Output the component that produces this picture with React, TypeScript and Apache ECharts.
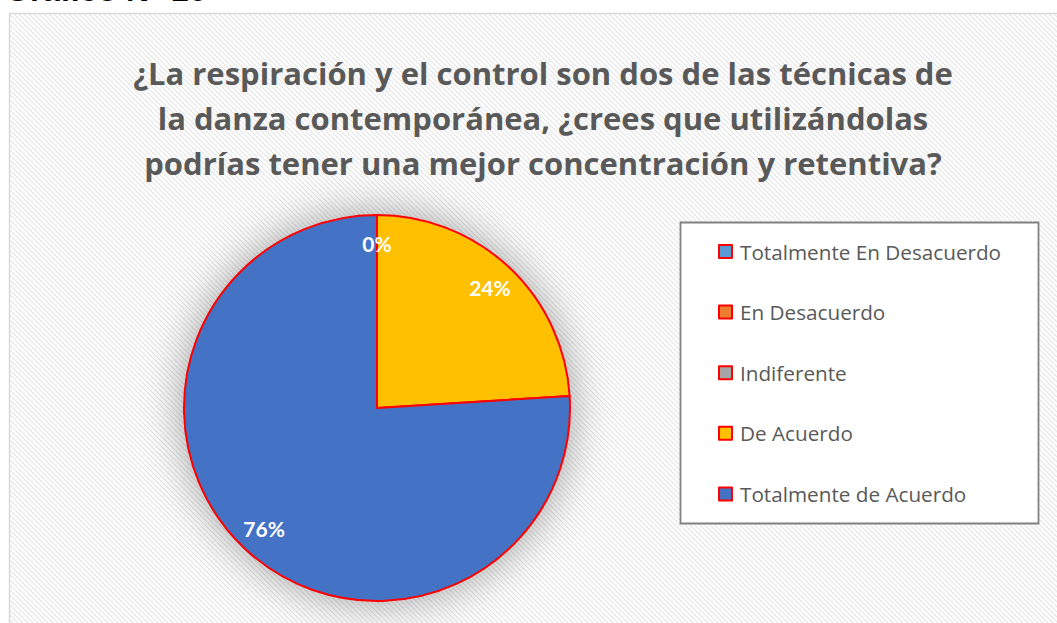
import React, { useEffect, useRef } from "react";
import * as echarts from "echarts";

const categories = [
  "Totalmente En Desacuerdo",
  "En Desacuerdo",
  "Indiferente",
  "De Acuerdo",
  "Totalmente de Acuerdo",
];
const values = [0, 0, 0, 24, 76];
const colors = ["#5b9bd5", "#ed7d31", "#a5a5a5", "#ffc000", "#4472c4"];
const titleText =
  "¿La respiración y el control son dos de las técnicas de\nla danza contemporánea, ¿crees que utilizándolas\npodrías tener una mejor concentración y retentiva?";
const headerText = "Gráfico N° 16";

const hatchSvg =
  "data:image/svg+xml;charset=utf-8," +
  encodeURIComponent(
    '<svg xmlns="http://www.w3.org/2000/svg" width="5" height="5"><rect width="5" height="5" fill="#ffffff"/><path d="M-1,-1 L6,6 M-1,4 L1,6 M4,-1 L6,1" stroke="#e4e4e4" stroke-width="1.1"/></svg>'
  );

export default function App() {
  const ref = useRef<HTMLDivElement>(null);
  useEffect(() => {
    if (!ref.current) return;
    const chart = echarts.init(ref.current, null, { renderer: "svg" });
    const data = categories.map((name, i) => ({
      name,
      value: values[i],
      itemStyle: { color: colors[i] },
    }));
    chart.setOption({
      animation: false,
      backgroundColor: "#ffffff",
      graphic: [
        {
          type: "rect",
          z: -10,
          shape: { x: 9.5, y: 13.5, width: 1060, height: 620 },
          style: {
            fill: { image: hatchSvg, repeat: "repeat", imageWidth: 5, imageHeight: 5 },
            stroke: "#d9d9d9",
            lineWidth: 1.5,
          },
        },
        {
          type: "text",
          x: 5,
          y: 6,
          style: {
            text: headerText,
            font: "bold 32px 'Liberation Sans', Arial, sans-serif",
            fill: "#000000",
            verticalAlign: "bottom",
            align: "left",
          },
        },
        {
          type: "text",
          x: 543,
          y: 118,
          style: {
            text: titleText,
            font: "bold 31px 'Open Sans', Lato, sans-serif",
            fill: "#595959",
            align: "center",
            verticalAlign: "middle",
            lineHeight: 45,
          },
        },
        {
          type: "rect",
          z: 1,
          shape: { x: 680.5, y: 222.5, width: 358, height: 301 },
          style: { fill: "#ffffff", stroke: "#808080", lineWidth: 1.8 },
        },
      ],
      legend: {
        orient: "vertical",
        left: 718,
        top: 241,
        z: 5,
        data: categories,
        icon: "rect",
        itemWidth: 13,
        itemHeight: 13,
        itemGap: 39.6,
        padding: 0,
        selectedMode: false,
        textStyle: {
          fontFamily: "'Open Sans', Lato, sans-serif",
          fontSize: 20.7,
          color: "#595959",
          lineHeight: 21,
          padding: [0, 0, 0, 3],
        },
        itemStyle: { borderColor: "#ff0000", borderWidth: 2 },
      },
      series: [
        {
          type: "pie",
          name: "shadow",
          center: [377, 408],
          radius: [0, 193],
          silent: true,
          z: 1,
          label: { show: false },
          data: [{ value: 1, name: "" }],
          itemStyle: {
            color: "#ffffff",
            shadowBlur: 45,
            shadowColor: "rgba(0,0,0,0.38)",
          },
        },
        {
          type: "pie",
          name: "main",
          center: [377, 408],
          radius: [0, 193],
          startAngle: 90,
          clockwise: true,
          z: 2,
          label: { show: false },
          labelLine: { show: false },
          data,
          itemStyle: { borderColor: "#ff0000", borderWidth: 2 },
          emphasis: { disabled: true },
        },
        {
          type: "pie",
          name: "labels",
          center: [377, 408],
          radius: [131, 193],
          startAngle: 90,
          clockwise: true,
          silent: true,
          z: 3,
          percentPrecision: 0,
          data: categories.map((name, i) => ({ name, value: values[i] })),
          itemStyle: { color: "rgba(0,0,0,0)", borderWidth: 0 },
          label: {
            show: true,
            position: "inside",
            formatter: "{d}%",
            color: "#ffffff",
            fontSize: 21,
            fontWeight: "bold",
            fontFamily: "Lato, 'Open Sans', sans-serif",
          },
          labelLine: { show: false },
          emphasis: { disabled: true },
        },
      ],
    });
    return () => chart.dispose();
  }, []);
  return (
    <div
      ref={ref}
      style={{ position: "fixed", left: 0, top: 0, width: 1057, height: 623 }}
    />
  );
}
